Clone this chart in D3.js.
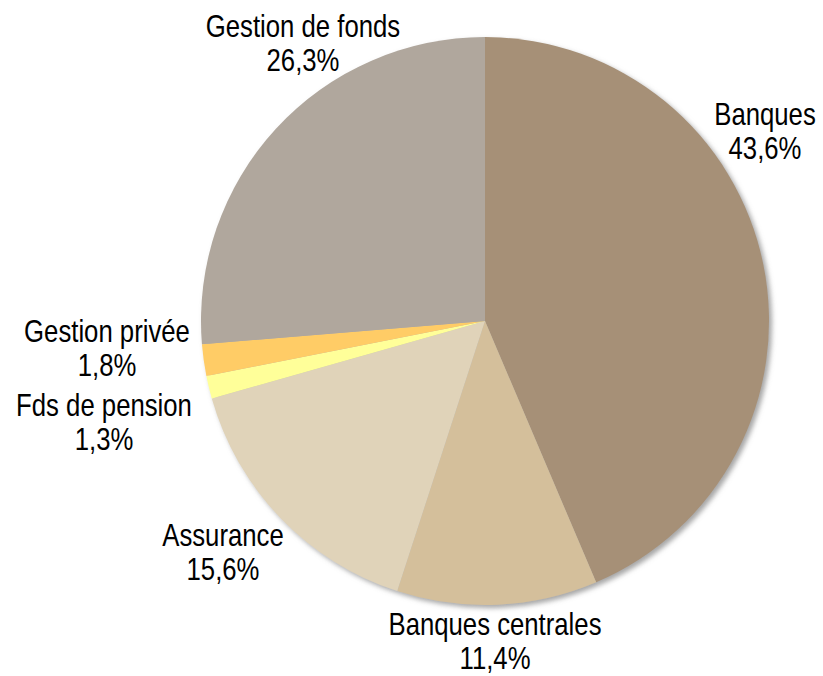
<!DOCTYPE html>
<html>
<head>
<meta charset="utf-8">
<script src="https://cdn.jsdelivr.net/npm/d3@7"></script>
<style>
  html, body { margin: 0; padding: 0; background: #fff; }
  svg { display: block; }
  .label { font-family: "Liberation Sans", Arial, sans-serif; font-size: 31px; fill: #000; }
</style>
</head>
<body>
<div id="chart"></div>
<script>
// sectors, clockwise from 12 o'clock
const categories = ['Banques', 'Banques centrales', 'Assurance', 'Fds de pension', 'Gestion privée', 'Gestion de fonds'];
const shares = [43.6, 11.4, 15.6, 1.3, 1.8, 26.3];
const colors = ['#a69077', '#d4bf9b', '#e0d3b9', '#ffff99', '#ffcc66', '#b0a79d'];
// label anchors (centre of the first line's baseline)
const labelPos = [[765, 125], [495, 635], [223, 546], [104, 416], [107, 342], [303, 37]];

const width = 823, height = 676;
const cx = 485, cy = 321, radius = 284;
const lineGap = 34;
const narrow = 0.83; // no narrow face installed, squeeze Liberation Sans

const svg = d3.select('#chart').append('svg')
  .attr('width', width)
  .attr('height', height);

const defs = svg.append('defs');
const shadow = defs.append('filter')
  .attr('id', 'shadow')
  .attr('x', '-10%').attr('y', '-10%')
  .attr('width', '120%').attr('height', '120%');
shadow.append('feDropShadow')
  .attr('dx', 3).attr('dy', 3)
  .attr('stdDeviation', 2.5)
  .attr('flood-color', '#808080')
  .attr('flood-opacity', 0.7);

const pie = d3.pie().sort(null).value(d => d.value);
const arc = d3.arc().innerRadius(0).outerRadius(radius);

const data = categories.map((c, i) => ({ name: c, value: shares[i], color: colors[i], pos: labelPos[i] }));

const g = svg.append('g')
  .attr('transform', `translate(${cx},${cy})`)
  .attr('filter', 'url(#shadow)');

g.selectAll('path')
  .data(pie(data))
  .enter()
  .append('path')
  .attr('d', arc)
  .attr('fill', d => d.data.color);

const fmt = v => v.toFixed(1).replace('.', ',') + '%';

const labels = svg.selectAll('.label')
  .data(data)
  .enter()
  .append('text')
  .attr('class', 'label')
  .attr('text-anchor', 'middle')
  .attr('transform', d => `translate(${d.pos[0]},${d.pos[1]}) scale(${narrow},1)`);

labels.append('tspan')
  .attr('x', 0)
  .attr('y', 0)
  .text(d => d.name);

labels.append('tspan')
  .attr('x', 0)
  .attr('y', lineGap)
  .text(d => fmt(d.value));
</script>
</body>
</html>
